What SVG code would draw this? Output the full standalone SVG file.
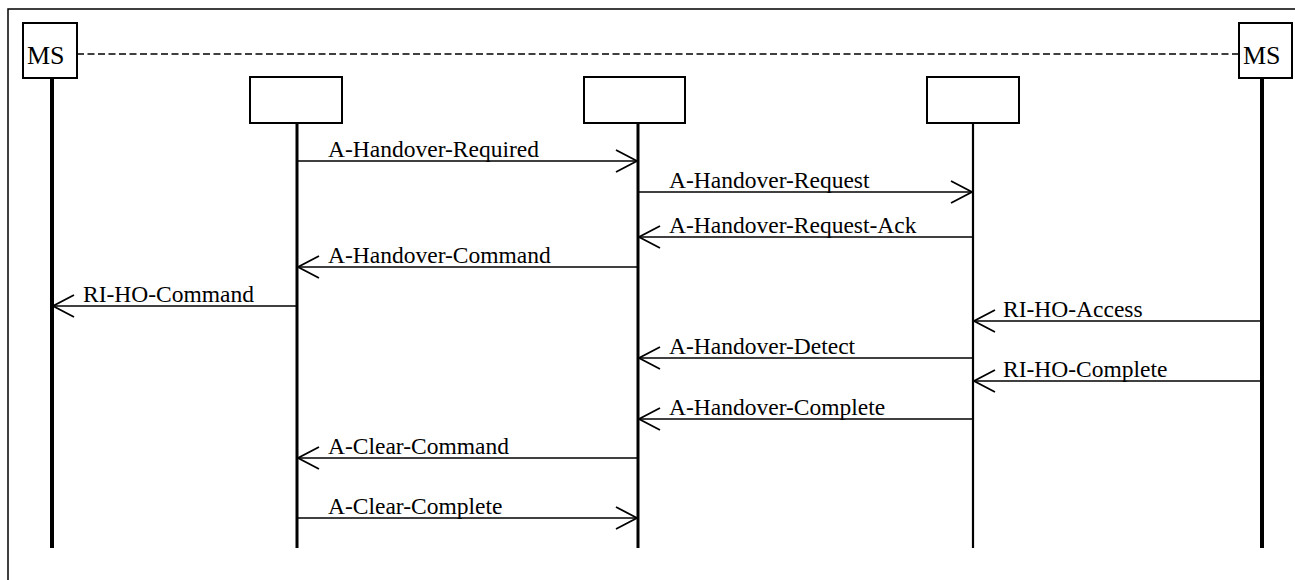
<svg xmlns="http://www.w3.org/2000/svg" width="1295" height="580" viewBox="0 0 1295 580">
<style>
.box{fill:#fff;stroke:#000;stroke-width:2}
.life{stroke:#000;stroke-width:3;fill:none}
.msg{stroke:#000;stroke-width:1.6;fill:none;marker-end:url(#ah)}
.lbl{font-family:"Liberation Serif","Times New Roman",serif;font-size:23.5px;fill:#000}
.ms{font-family:"Liberation Serif","Times New Roman",serif;font-size:26px;fill:#000}
</style>
<defs>
<marker id="ah" markerUnits="userSpaceOnUse" markerWidth="30" markerHeight="30" viewBox="-25 -15 30 30" refX="0" refY="0" orient="auto" overflow="visible">
<path d="M-21,-11 L0,0 L-21,11" fill="none" stroke="#000" stroke-width="1.8"/>
</marker>
</defs>
<rect width="1295" height="580" fill="#fff"/>
<path d="M8,580 V9 H1295" fill="none" stroke="#000" stroke-width="1.5"/>
<line x1="77" y1="54" x2="1239" y2="54" stroke="#000" stroke-width="1.5" stroke-dasharray="7,3.5"/>
<g id="ms-left">
<rect class="box" x="23" y="23" width="54" height="55"/>
<text class="ms" x="27" y="64">MS</text>
<line class="life" x1="52" y1="78" x2="52" y2="548" style="stroke-width:4"/>
</g>
<g id="node2">
<rect class="box" x="250" y="77" width="92" height="46"/>
<line class="life" x1="297" y1="123" x2="297" y2="548"/>
</g>
<g id="node3">
<rect class="box" x="584" y="77" width="101" height="46"/>
<line class="life" x1="638" y1="123" x2="638" y2="548"/>
</g>
<g id="node4">
<rect class="box" x="927" y="77" width="92" height="46"/>
<line class="life" x1="973" y1="123" x2="973" y2="548" style="stroke-width:2.2"/>
</g>
<g id="ms-right">
<rect class="box" x="1239" y="23" width="53" height="55"/>
<text class="ms" x="1243" y="64">MS</text>
<line class="life" x1="1262" y1="78" x2="1262" y2="548" style="stroke-width:4"/>
</g>
<g id="connectors">
<line class="msg" x1="297" y1="161" x2="637" y2="161"/>
<text class="lbl" x="328" y="157">A-Handover-Required</text>
<line class="msg" x1="638" y1="192" x2="972" y2="192"/>
<text class="lbl" x="669" y="188">A-Handover-Request</text>
<line class="msg" x1="973" y1="237" x2="639" y2="237"/>
<text class="lbl" x="669" y="233">A-Handover-Request-Ack</text>
<line class="msg" x1="638" y1="267" x2="298" y2="267"/>
<text class="lbl" x="328" y="263">A-Handover-Command</text>
<line class="msg" x1="297" y1="306" x2="53" y2="306"/>
<text class="lbl" x="83" y="302">RI-HO-Command</text>
<line class="msg" x1="1262" y1="321" x2="974" y2="321"/>
<text class="lbl" x="1003" y="317">RI-HO-Access</text>
<line class="msg" x1="973" y1="358" x2="639" y2="358"/>
<text class="lbl" x="669" y="354">A-Handover-Detect</text>
<line class="msg" x1="1262" y1="381" x2="974" y2="381"/>
<text class="lbl" x="1003" y="377">RI-HO-Complete</text>
<line class="msg" x1="973" y1="419" x2="639" y2="419"/>
<text class="lbl" x="669" y="415">A-Handover-Complete</text>
<line class="msg" x1="638" y1="458" x2="298" y2="458"/>
<text class="lbl" x="328" y="454">A-Clear-Command</text>
<line class="msg" x1="297" y1="518" x2="637" y2="518"/>
<text class="lbl" x="328" y="514">A-Clear-Complete</text>
</g>
</svg>
